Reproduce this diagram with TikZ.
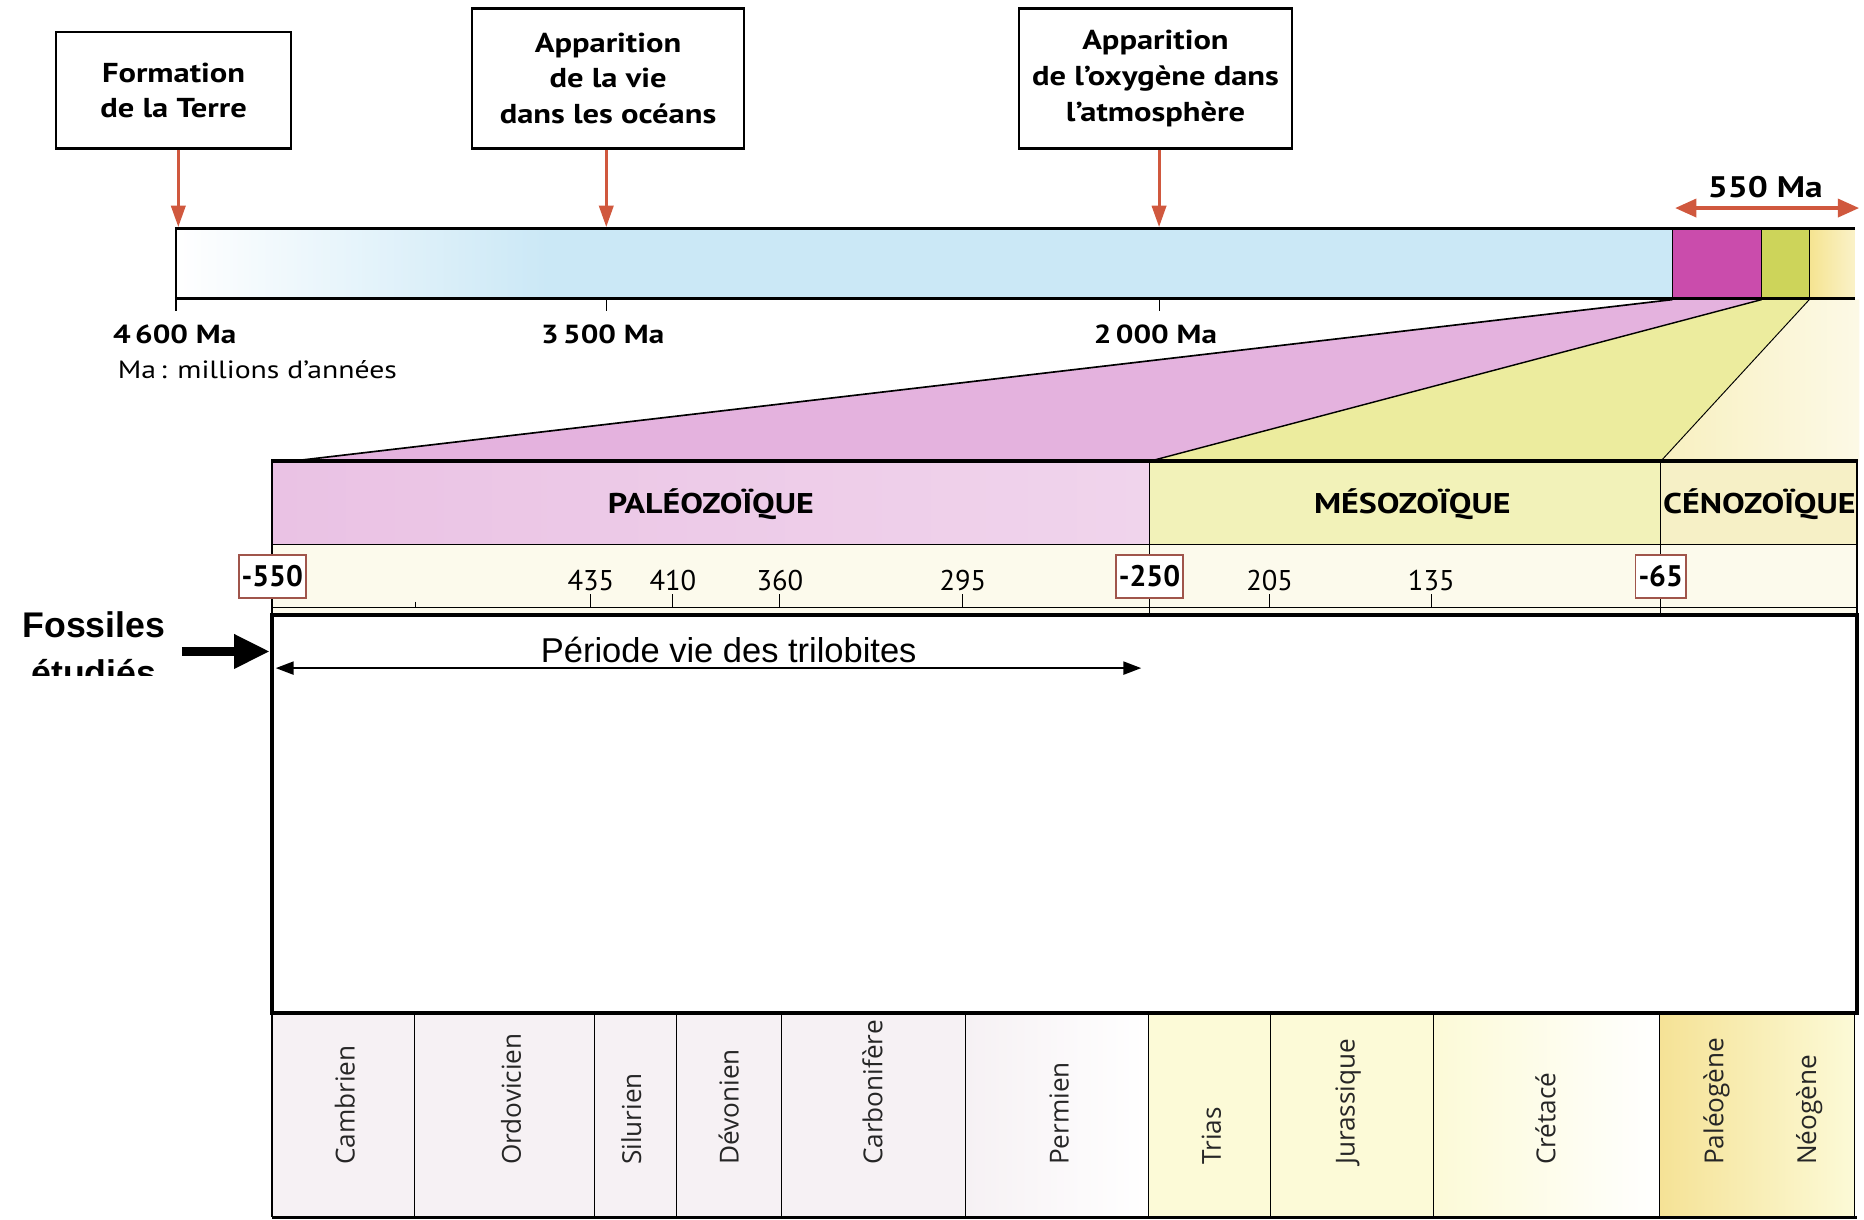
\documentclass[tikz,border=0pt]{standalone}
\usepackage{fontspec}
\setmainfont{PT Sans}
\newfontfamily\widef[FakeStretch=1.19]{PT Sans}
\newfontfamily\arialf{Liberation Sans}
\newfontfamily\periodf{Open Sans}
\usetikzlibrary{arrows.meta}
\definecolor{redarr}{RGB}{208,88,62}
\definecolor{boxred}{RGB}{160,85,75}
\definecolor{lblue}{RGB}{203,232,246}
\definecolor{magen}{RGB}{202,76,172}
\definecolor{ygreen}{RGB}{205,212,90}
\definecolor{lyel}{RGB}{245,228,145}
\definecolor{zpink}{RGB}{228,178,222}
\definecolor{zyel}{RGB}{236,236,158}
\definecolor{zpale}{RGB}{248,240,192}
\definecolor{paleoA}{RGB}{234,194,228}
\definecolor{paleoB}{RGB}{240,212,236}
\definecolor{meso}{RGB}{242,242,185}
\definecolor{ceno}{RGB}{246,240,198}
\definecolor{daterow}{RGB}{252,250,236}
\definecolor{perpal}{RGB}{246,241,244}
\definecolor{peryel}{RGB}{252,250,215}
\definecolor{pergold}{RGB}{245,226,150}
\tikzset{
  eventbox/.style={draw, line width=2pt, fill=white, align=center, inner sep=0pt,
    font=\widef\fontsize{23}{30}\selectfont\bfseries},
  redarrow/.style={draw=redarr, line width=2.5pt, -{Triangle[length=18pt,width=12pt]}},
  barlabel/.style={font=\widef\fontsize{22}{26}\selectfont\bfseries, inner sep=0pt},
  eralabel/.style={font=\widef\fontsize{24}{28}\selectfont\bfseries, inner sep=0pt},
  datenum/.style={font=\fontsize{24}{28}\selectfont, inner sep=0pt, anchor=base},
  datebox/.style={draw=boxred, line width=1.5pt, fill=white, inner xsep=2.5pt, inner ysep=0pt,
    minimum height=36pt, font=\fontsize{25}{28}\selectfont\bfseries},
  perlabel/.style={rotate=90, anchor=west, inner sep=0pt, text=black!85,
    font=\periodf\fontsize{22}{24}\selectfont},
  fosslabel/.style={font=\arialf\fontsize{30}{36}\selectfont\bfseries, inner sep=0pt, anchor=base},
  ticklen/.style={line width=0.9pt},
}
\begin{document}
\begin{tikzpicture}[x=1pt,y=-1pt]
\useasboundingbox (0,0) rectangle (1568,1026);

% zoom trapezoids
\fill[zpink] (1407,252) -- (1482,252) -- (967,388) -- (245,388) -- cycle;
\fill[zyel] (1482,252) -- (1522,252) -- (1397,388) -- (967,388) -- cycle;
\shade[left color=zpale, right color=zpale!40] (1522,252) -- (1564,252) -- (1564,388) -- (1397,388) -- cycle;
\draw[line width=1.4pt] (1407,252) -- (245,388);
\draw[line width=1.2pt] (1482,252) -- (967,388);
\draw[line width=0.8pt] (1522,252) -- (1397,388);

% top time bar
\shade[left color=white, right color=lblue] (148,192) rectangle (460,251);
\fill[lblue] (459,192) rectangle (1407,251);
\fill[magen] (1407,192) rectangle (1482,251);
\fill[ygreen] (1482,192) rectangle (1522,251);
\shade[left color=lyel, right color=lyel!50] (1522,192) rectangle (1560,251);
\draw[line width=0.7pt] (1407,192) -- (1407,251) (1482,192) -- (1482,251) (1522,192) -- (1522,251);
\draw[line width=1pt] (148,192) -- (148,262);
\draw[ticklen] (510,251) -- (510,262) (975,251) -- (975,262);
\draw[line width=2.6pt] (147,192) -- (1560,192);
\draw[line width=2.6pt] (147,251) -- (1560,251);

% event boxes and arrows
\node[eventbox, minimum width=198pt, minimum height=98pt] (formation) at (146,76) {Formation\\de la Terre};
\node[eventbox, minimum width=229pt, minimum height=118pt] (vie) at (511.5,66) {Apparition\\de la vie\\dans les océans};
\node[eventbox, minimum width=230pt, minimum height=118pt] (oxy) at (972,66) {Apparition\\de l’oxygène dans\\l’atmosphère};
\coordinate (t4600) at (150,191);
\coordinate (t3500) at (510,191);
\coordinate (t2000) at (975,191);
\draw[redarrow] (formation.south -| t4600) -- (t4600);
\draw[redarrow] (vie.south -| t3500) -- (t3500);
\draw[redarrow] (oxy.south -| t2000) -- (t2000);

\node[barlabel, anchor=base west] (l4600) at (95,289) {4\,600 Ma};
\node[barlabel, anchor=base] (l3500) at (507,289) {3\,500 Ma};
\node[barlabel, anchor=base] (l2000) at (972,289) {2\,000 Ma};
\node[font=\widef\fontsize{21}{26}\selectfont, inner sep=0pt, anchor=base west] (lma) at (99,318) {Ma\,: millions d’années};

% 550 Ma
\coordinate (d550a) at (1409,175);
\coordinate (d550b) at (1564,175);
\draw[draw=redarr, line width=3.5pt, {Triangle[length=18pt,width=15pt]}-{Triangle[length=18pt,width=15pt]}] (d550a) -- (d550b);
\node[font=\widef\fontsize{25}{28}\selectfont\bfseries, inner sep=0pt, anchor=base] (l550) at (1485,166) {550 Ma};

% eras row
\shade[left color=paleoA, right color=paleoB] (229,388) rectangle (967,458);
\fill[meso] (967,388) rectangle (1397,458);
\fill[ceno] (1397,388) rectangle (1562,458);
\fill[daterow] (229,458) rectangle (1562,517);
\node[eralabel] (paleo) at (598,424) {PALÉOZOÏQUE};
\node[eralabel] (mesoz) at (1188,424) {MÉSOZOÏQUE};
\node[eralabel] (cenoz) at (1480,424) {CÉNOZOÏQUE};
\draw[line width=1.2pt] (229,458) -- (1562,458);
\draw[line width=0.8pt] (229,511) -- (1562,511);
\draw[line width=1pt] (967,388) -- (967,517) (1397,388) -- (1397,517);
\draw[line width=1.2pt] (1562,388) -- (1562,517);
\draw[line width=3.2pt] (228,388) -- (1563,388);

% dates
\foreach \xx/\lab in {497/435, 566/410, 656/360, 810/295, 1068/205, 1204/135}{
  \node[datenum] (n\lab) at (\xx,497) {\lab};
  \draw[ticklen] (\xx,500) -- (\xx,511);
}
\draw[line width=0.6pt] (349,506) -- (349,511);

% periods row
\fill[perpal] (229,852) rectangle (812,1024);
\shade[left color=perpal, right color=white] (812,852) rectangle (966,1024);
\fill[peryel] (966,852) rectangle (1206,1024);
\shade[left color=peryel, right color=white] (1206,852) rectangle (1396,1024);
\shade[left color=pergold, right color=peryel] (1396,852) rectangle (1560,1024);
\foreach \xx in {349,500,569,657,812,966,1069,1206,1396}{
  \draw[line width=0.9pt] (\xx,852) -- (\xx,1024);
}
\draw[line width=0.9pt] (1560,852) -- (1560,1024);
\draw[line width=2pt] (229,1024) -- (1562,1024);
\draw[line width=2pt] (229,852) -- (229,1024);
\foreach \xx/\nm/\lab in {290/camb/Cambrien, 430/ordo/Ordovicien, 531/silu/Silurien, 613/devo/Dévonien, 734/carb/Carbonifère, 891/perm/Permien, 1019/trias/Trias, 1134/jura/Jurassique, 1300/creta/Crétacé, 1444/paleog/Paléogène, 1522/neog/Néogène}{
  \node[perlabel] (\nm) at (\xx,980) {\lab};
}

% studied fossils box
\draw[line width=3.5pt] (229,517) rectangle (1562,852);
\draw[line width=2pt] (229,388) -- (229,517);
\node[datebox] (b550) at (229,485) {-550};
\node[datebox] (b250) at (967,485) {-250};
\node[datebox] (b65) at (1397,485) {-65};

\node[fosslabel] (fossiles) at (79,536) {Fossiles};
\begin{scope}
\clip (0,540) rectangle (200,568);
\node[fosslabel] (etudies) at (79,577) {étudiés};
\end{scope}
\coordinate (farrowA) at (153,548);
\coordinate (farrowB) at (227,548);
\draw[line width=8pt, -{Triangle[length=30pt,width=27pt]}] (farrowA) -- (farrowB);

\node[font=\arialf\fontsize{29}{34}\selectfont, inner sep=0pt, anchor=base] (trilo) at (613,557) {Période vie des trilobites};
\coordinate (triloA) at (232,562);
\coordinate (triloB) at (960,562);
\draw[line width=1.6pt, {Triangle[length=15pt,width=11pt]}-{Triangle[length=15pt,width=11pt]}] (triloA) -- (triloB);
\end{tikzpicture}
\end{document}
